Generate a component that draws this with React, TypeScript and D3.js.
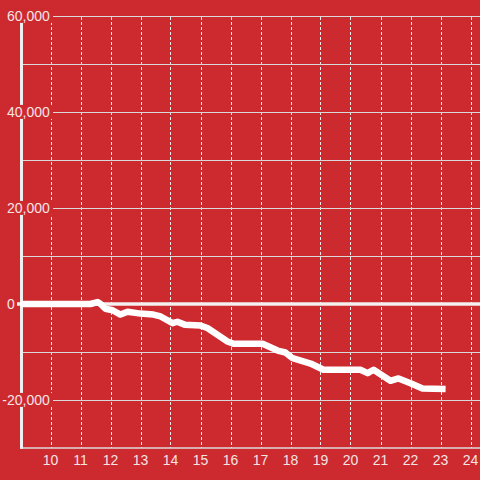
import { useEffect, useRef } from 'react';
import * as d3 from 'd3';

// hours (x) and running total (y)
const hours = [
  9, 11.33, 11.57, 11.67, 11.83, 12.07, 12.33, 12.57, 13.0, 13.43, 13.67, 14.07, 14.23, 14.47,
  15.0, 15.23, 15.9, 16.1, 17.07, 17.57, 17.83, 18.07, 18.67, 19.1, 20.33, 20.57, 20.77, 21.33,
  21.6, 22.0, 22.4, 23.17,
];
const totals = [
  0, 0, 400, 0, -1000, -1300, -2200, -1600, -2000, -2200, -2600, -4000, -3700, -4300,
  -4500, -5000, -7800, -8300, -8300, -9700, -10100, -11300, -12400, -13700, -13700, -14400, -13700, -16000,
  -15500, -16500, -17600, -17700,
];

const xTicks = [10, 11, 12, 13, 14, 15, 16, 17, 18, 19, 20, 21, 22, 23, 24];
const yGrid = [60000, 50000, 40000, 30000, 20000, 10000, 0, -10000, -20000];
const yLabels = [60000, 40000, 20000, 0, -20000];

const BG = '#cc2a2f';
const TEXT = '#f4e4e4';

export default function App() {
  const svgRef = useRef<SVGSVGElement>(null);

  useEffect(() => {
    if (!svgRef.current) return;
    const svg = d3.select(svgRef.current);
    svg.selectAll('*').remove();

    const width = 480;
    const height = 480;

    const x = d3.scaleLinear().domain([9, 24]).range([20.5, 470.5]);
    const y = d3.scaleLinear().domain([-30000, 60000]).range([448, 16]);

    svg.append('rect').attr('width', width).attr('height', height).attr('fill', BG);

    // vertical dashed grid
    svg
      .append('g')
      .selectAll('line')
      .data(xTicks)
      .enter()
      .append('line')
      .attr('x1', d => Math.round(x(d)) + 0.5)
      .attr('x2', d => Math.round(x(d)) + 0.5)
      .attr('y1', y(60000) + 1)
      .attr('y2', y(-30000))
      .attr('stroke', '#ececec')
      .attr('stroke-width', 1)
      .attr('stroke-dasharray', '3,2');

    // horizontal grid
    svg
      .append('g')
      .selectAll('line')
      .data(yGrid.filter(d => d !== 0))
      .enter()
      .append('line')
      .attr('x1', 22)
      .attr('x2', width)
      .attr('y1', d => y(d) + 0.5)
      .attr('y2', d => y(d) + 0.5)
      .attr('stroke', '#d9d9d9')
      .attr('stroke-width', 1);

    // bottom line
    svg
      .append('line')
      .attr('x1', 20)
      .attr('x2', width)
      .attr('y1', y(-30000))
      .attr('y2', y(-30000))
      .attr('stroke', '#dcdcdc')
      .attr('stroke-width', 1.5);

    // y axis line
    svg
      .append('line')
      .attr('x1', 21.5)
      .attr('x2', 21.5)
      .attr('y1', y(60000))
      .attr('y2', y(-30000) + 0.75)
      .attr('stroke', '#f0f0f0')
      .attr('stroke-width', 3);

    // y labels with background boxes
    const fmt = d3.format(',');
    const labels = svg.append('g');
    yLabels.forEach(v => {
      const g = labels.append('g');
      const t = g
        .append('text')
        .attr('x', v < 0 ? 2.3 : 7)
        .attr('y', y(v))
        .attr('dy', '0.35em')
        .attr('font-family', '"Liberation Sans", Arial, sans-serif')
        .attr('font-size', 14)
        .attr('fill', TEXT)
        .text(v < 0 ? '-' + fmt(-v) : fmt(v));
      const bb = (t.node() as SVGTextElement).getBBox();
      g.insert('rect', 'text')
        .attr('x', bb.x - 1)
        .attr('y', bb.y + 1)
        .attr('width', bb.width + 4)
        .attr('height', bb.height - 2)
        .attr('fill', BG);
    });

    // x labels
    svg
      .append('g')
      .selectAll('text')
      .data(xTicks)
      .enter()
      .append('text')
      .attr('x', d => x(d))
      .attr('y', 465)
      .attr('text-anchor', 'middle')
      .attr('font-family', '"Liberation Sans", Arial, sans-serif')
      .attr('font-size', 14)
      .attr('fill', TEXT)
      .text(d => d);

    // zero line
    svg
      .append('line')
      .attr('x1', 17)
      .attr('x2', width)
      .attr('y1', y(0))
      .attr('y2', y(0))
      .attr('stroke', '#f5f0f0')
      .attr('stroke-width', 3.5);

    // data line
    const pts = hours.map((h, i) => [h, totals[i]] as [number, number]);
    const line = d3
      .line<[number, number]>()
      .x(d => x(d[0]))
      .y(d => y(d[1]));

    svg
      .append('path')
      .datum(pts)
      .attr('d', line)
      .attr('fill', 'none')
      .attr('stroke', '#ffffff')
      .attr('stroke-width', 6.5)
      .attr('stroke-linejoin', 'round')
      .attr('stroke-linecap', 'butt');
  }, []);

  return (
    <svg
      ref={svgRef}
      width={480}
      height={480}
      style={{ position: 'absolute', left: 0, top: 0, display: 'block' }}
    />
  );
}
